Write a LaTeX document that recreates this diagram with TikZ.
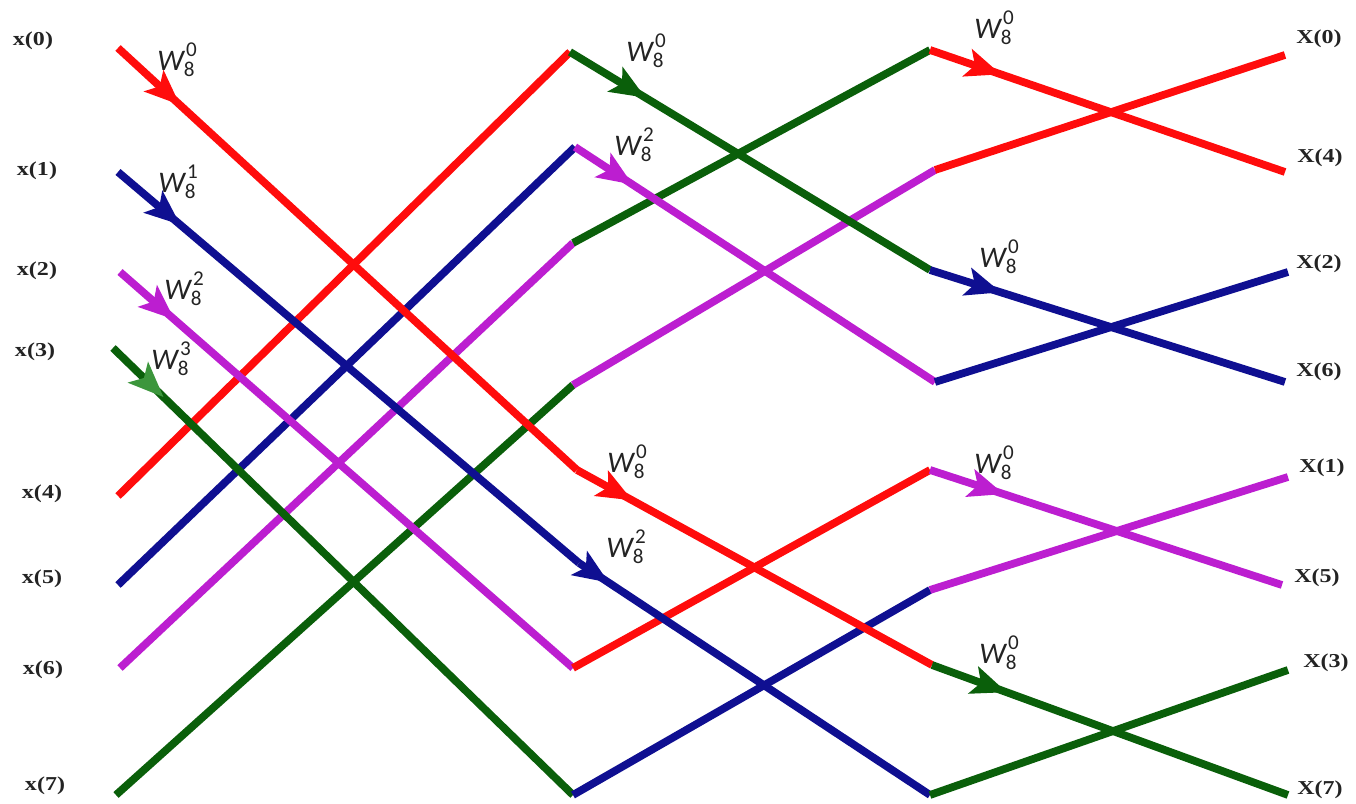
\documentclass[tikz,border=0pt]{standalone}
\usepackage{fontspec}
\setmainfont{Liberation Serif}
\newfontfamily\lblfont[FakeStretch=1.22]{Liberation Serif}
\newfontfamily\wfont{Carlito}
\usetikzlibrary{arrows.meta,decorations.markings}
\definecolor{cred}{RGB}{255,12,12}
\definecolor{cblue}{RGB}{15,15,145}
\definecolor{cpurple}{RGB}{188,30,208}
\definecolor{cgreen}{RGB}{10,95,10}
\definecolor{clgreen}{RGB}{60,150,60}
\definecolor{ctext}{RGB}{35,35,35}
\newcommand\twid[1]{{\wfont\fontsize{8.5}{9}\selectfont\itshape W}\makebox[0pt][l]{\hspace{0.6pt}\raisebox{4pt}{\wfont\fontsize{6}{6}\selectfont #1}}\raisebox{-1.8pt}{\wfont\fontsize{6}{6}\selectfont 8}}
\tikzset{
  wire/.style={line width=2.2pt},
  arr/.style={postaction={decorate},decoration={markings,mark=at position #1 with {\arrow{Stealth[length=10pt,width=8pt,inset=2.2pt]}}}},
  arrlg/.style={postaction={decorate},decoration={markings,mark=at position #1 with {\arrow[clgreen]{Stealth[length=10pt,width=8pt,inset=2.2pt]}}}},
  lbl/.style={inner sep=0pt,text=ctext,font=\lblfont\bfseries\fontsize{5.6}{6}\selectfont},
  tw/.style={inner sep=0pt,text=ctext},
}
\begin{document}
\begin{tikzpicture}[x=0.01cm,y=-0.01cm]
\useasboundingbox (0,0) rectangle (1356,804);
% input points
\coordinate (i0) at (118,48);
\coordinate (i1) at (118,172);
\coordinate (i2) at (120,272);
\coordinate (i3) at (113,348);
\coordinate (i4) at (118,496);
\coordinate (i5) at (118,585);
\coordinate (i6) at (120,668);
\coordinate (i7) at (116,795);
% stage 1 points
\coordinate (a0) at (570,52);
\coordinate (a1) at (575,147);
\coordinate (a2) at (573,243);
\coordinate (a3) at (573,385);
\coordinate (a4) at (577,470);
\coordinate (a5) at (579,563);
\coordinate (a6) at (573,668);
\coordinate (a7) at (573,795);
% stage 2 points
\coordinate (b0) at (930,50);
\coordinate (b1) at (935,170);
\coordinate (b2) at (930,270);
\coordinate (b3) at (935,382);
\coordinate (b4) at (930,470);
\coordinate (b5) at (930,590);
\coordinate (b6) at (932,665);
\coordinate (b7) at (930,795);
% outputs
\coordinate (o0) at (1285,55);
\coordinate (o4) at (1285,172);
\coordinate (o2) at (1288,272);
\coordinate (o6) at (1285,382);
\coordinate (o1) at (1288,477);
\coordinate (o5) at (1282,585);
\coordinate (o3) at (1288,670);
\coordinate (o7) at (1288,795);

% stage 1 wires
\draw[wire,cred] (i4) -- (a0);
\draw[wire,cblue] (i5) -- (a1);
\draw[wire,cpurple] (i6) -- (a2);
\draw[wire,cgreen] (i7) -- (a3);
\draw[wire,cred,arr=0.135] (i0) -- (a4);
\draw[wire,cblue,arr=0.135] (i1) -- (a5);
\draw[wire,cpurple,arr=0.12] (i2) -- (a6);
\draw[wire,cgreen,arrlg=0.11] (i3) -- (a7);
% stage 2 wires
\draw[wire,cgreen] (a2) -- (b0);
\draw[wire,cpurple] (a3) -- (b1);
\draw[wire,cred] (a6) -- (b4);
\draw[wire,cblue] (a7) -- (b5);
\draw[wire,cgreen,arr=0.21] (a0) -- (b2);
\draw[wire,cpurple,arr=0.16] (a1) -- (b3);
\draw[wire,cred,arr=0.156] (a4) -- (b6);
\draw[wire,cblue,arr=0.085] (a5) -- (b7);
% stage 3 wires
\draw[wire,cred] (b1) -- (o0);
\draw[wire,cblue] (b3) -- (o2);
\draw[wire,cpurple] (b5) -- (o1);
\draw[wire,cgreen] (b7) -- (o3);
\draw[wire,cred,arr=0.2] (b0) -- (o4);
\draw[wire,cblue,arr=0.2] (b2) -- (o6);
\draw[wire,cpurple,arr=0.21] (b4) -- (o5);
\draw[wire,cgreen,arr=0.21] (b6) -- (o7);

% input labels
\node[lbl] (lx0) at (33,41) {x(0)};
\node[lbl] (lx1) at (37,171) {x(1)};
\node[lbl] (lx2) at (37,271) {x(2)};
\node[lbl] (lx3) at (35,352) {x(3)};
\node[lbl] (lx4) at (42,494) {x(4)};
\node[lbl] (lx5) at (42,579) {x(5)};
\node[lbl] (lx6) at (43,670) {x(6)};
\node[lbl] (lx7) at (45,786) {x(7)};
% output labels
\node[lbl] (lX0) at (1319,39) {X(0)};
\node[lbl] (lX4) at (1320,158) {X(4)};
\node[lbl] (lX2) at (1319,264) {X(2)};
\node[lbl] (lX6) at (1319,372) {X(6)};
\node[lbl] (lX1) at (1322,468) {X(1)};
\node[lbl] (lX5) at (1317,578) {X(5)};
\node[lbl] (lX3) at (1326,663) {X(3)};
\node[lbl] (lX7) at (1320,790) {X(7)};
% twiddle labels
\node[tw] (w1) at (176,60) {\twid{0}};
\node[tw] (w2) at (177,182) {\twid{1}};
\node[tw] (w3) at (183,289) {\twid{2}};
\node[tw] (w4) at (170,359) {\twid{3}};
\node[tw] (w5) at (645,51) {\twid{0}};
\node[tw] (w6) at (633,145) {\twid{2}};
\node[tw] (w7) at (626,462) {\twid{0}};
\node[tw] (w8) at (625,547) {\twid{2}};
\node[tw] (w9) at (993,28) {\twid{0}};
\node[tw] (w10) at (998,257) {\twid{0}};
\node[tw] (w11) at (993,463) {\twid{0}};
\node[tw] (w12) at (998,653) {\twid{0}};
\end{tikzpicture}
\end{document}
